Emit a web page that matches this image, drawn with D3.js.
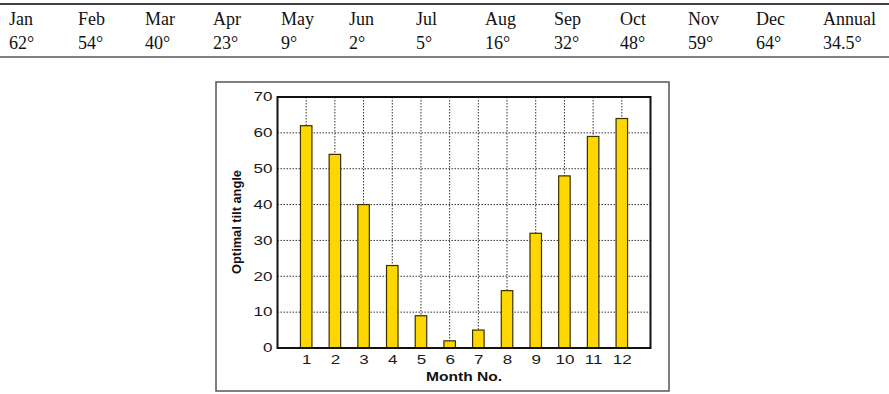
<!DOCTYPE html>
<html><head><meta charset="utf-8">
<script src="https://cdn.jsdelivr.net/npm/d3@7"></script>
<style>body{margin:0;background:#fff}svg{display:block}</style>
</head><body>
<svg id="c" width="889" height="394"></svg>
<script>
const tableHeaders = ["Jan","Feb","Mar","Apr","May","Jun","Jul","Aug","Sep","Oct","Nov","Dec","Annual"];
const tableValues = ["62°","54°","40°","23°","9°","2°","5°","16°","32°","48°","59°","64°","34.5°"];
const months = [1,2,3,4,5,6,7,8,9,10,11,12];
const tiltValues = [62,54,40,23,9,2,5,16,32,48,59,64];
const yTicks = [0,10,20,30,40,50,60,70];

const svg = d3.select("#c");

// Table
const colX = [9,78,145,213,281,349,416,485,554,620,688,756,823];
svg.append("line").attr("x1",0).attr("x2",889).attr("y1",4).attr("y2",4).attr("stroke","#000").attr("stroke-width",1.5);
svg.append("line").attr("x1",0).attr("x2",889).attr("y1",57).attr("y2",57).attr("stroke","#000").attr("stroke-width",1);
const tf = "'Liberation Serif','Times New Roman',serif";
tableHeaders.forEach((h,i)=>{
  svg.append("text").attr("x",colX[i]).attr("y",25).text(h).attr("font-family",tf).attr("font-size",18).attr("fill","#111");
  svg.append("text").attr("x",colX[i]).attr("y",48.5).text(tableValues[i]).attr("font-family",tf).attr("font-size",18).attr("fill","#111");
});

// Chart box
svg.append("rect").attr("x",216).attr("y",82).attr("width",453).attr("height",309).attr("fill","#fff").attr("stroke","#555").attr("stroke-width",1.5);

const L=277.5, R=650.5, T=97, B=348;
const x = d3.scaleLinear().domain([0,13]).range([L,R]);
const y = d3.scaleLinear().domain([0,70]).range([B,T]);
const g = svg.append("g");
const sf = "'Liberation Sans',Arial,sans-serif";
const stretch = "scale(1.42,1)";

// grid
g.selectAll(".hg").data(yTicks.filter(d=>d>0 && d<70)).enter().append("line")
 .attr("x1",L).attr("x2",R).attr("y1",d=>y(d)).attr("y2",d=>y(d))
 .attr("stroke","#333").attr("stroke-width",1).attr("stroke-dasharray","1.5,1.5");
g.selectAll(".vg").data(months).enter().append("line")
 .attr("x1",d=>x(d)).attr("x2",d=>x(d)).attr("y1",T).attr("y2",B)
 .attr("stroke","#333").attr("stroke-width",1).attr("stroke-dasharray","1.5,1.5");

// bars
const bw = 11.5;
g.selectAll(".bar").data(tiltValues).enter().append("rect")
 .attr("x",(d,i)=>x(months[i])-bw/2).attr("width",bw)
 .attr("y",d=>y(d)).attr("height",d=>y(0)-y(d))
 .attr("fill","#FFD700").attr("stroke","#3a3000").attr("stroke-width",1.2);

// frame
svg.append("rect").attr("x",L).attr("y",T).attr("width",R-L).attr("height",B-T).attr("fill","none").attr("stroke","#111").attr("stroke-width",2);

// axes
const ya = d3.axisLeft(y).tickValues(yTicks).tickSize(0).tickPadding(3.5);
const yg = svg.append("g").attr("transform",`translate(${L},0)`).call(ya);
yg.select(".domain").remove();
yg.selectAll("text").attr("font-family",sf).attr("font-size",12).attr("fill","#1a1a1a").attr("transform",stretch);

const xa = d3.axisBottom(x).tickValues(months).tickSize(0).tickPadding(7);
const xg = svg.append("g").attr("transform",`translate(0,${B})`).call(xa);
xg.select(".domain").remove();
xg.selectAll("text").attr("font-family",sf).attr("font-size",12).attr("fill","#1a1a1a").attr("transform",stretch);

svg.append("text").attr("transform",`translate(${(L+R)/2},380.5) scale(1.3,1)`).attr("text-anchor","middle")
 .attr("font-family",sf).attr("font-weight","bold").attr("font-size",12).attr("fill","#111").text("Month No.");
svg.append("text").attr("transform","translate(241,222) rotate(-90)").attr("text-anchor","middle")
 .attr("font-family",sf).attr("font-weight","bold").attr("font-size",12.8).attr("fill","#111").text("Optimal tilt angle");
</script>
</body></html>
